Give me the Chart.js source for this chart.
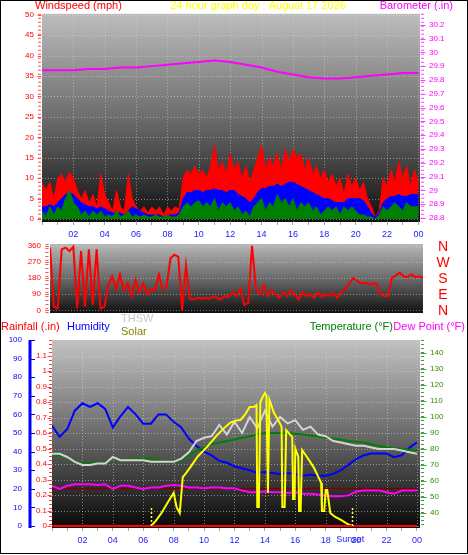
<!DOCTYPE html>
<html><head><meta charset="utf-8">
<script src="https://cdn.jsdelivr.net/npm/chart.js@4.4.1/dist/chart.umd.min.js"></script>
<style>
html,body{margin:0;padding:0;background:#fff;}
#wrap{position:relative;width:468px;height:555px;overflow:hidden;background:#fff;}
canvas{position:absolute;left:0;}
#frame{position:absolute;left:0;top:0;width:466px;height:552px;border:1px solid #000;pointer-events:none;}
</style></head><body>
<div id="wrap">
<canvas id="c1" width="468" height="245" style="top:0px"></canvas>
<canvas id="c2" width="468" height="105" style="top:225px"></canvas>
<canvas id="c3" width="468" height="255" style="top:300px"></canvas>
<div id="frame"></div>
</div>
<script>
// ---------- DATA ----------
const hourTicks = [0,1,2,3,4,5,6,7,8,9,10,11,12,13,14,15,16,17,18,19,20,21,22,23,24];
const gridHours = [2,4,6,8,10,12,14,16,18,20,22,24];

// wind (mph), 15-minute samples from 00:00 to 24:00
const windGust = [9,7,9,5, 10,11,9,11.5, 10,7,5,7, 4,6,3,11, 6,4,2,7, 3,2,11,5, 3,2,3,1.5, 3,2,3,1,
  3,2,3,2.5, 10,12,11,13, 11,12,10,13, 18,12,14,11, 16,12,14,10, 13,9,12,15, 18,12,15,13,
  16,12,17,14, 17,15,16,12, 15,11,13,10, 12,9,11,8, 10,6,11,8, 10,7,9,5, 3,0.5,2,10,
  8,12,9,14, 10,13,8,12, 9];
const windAvg = [3,3,3.5,3, 4,5,6,6.5, 6,5,4,3.5, 3,3,2.5,3, 2.5,2,1.5,1.5, 1.5,1,2,3, 2.5,2,1.5,1, 1,1,1,0.5,
  1,1,1,1.5, 5,6.5,6.5,7, 7,6.5,7,7, 7.5,7,7,6.5, 7,7,6,5.5, 5,4,5,6.5, 7.5,7.5,8,8,
  8.5,8,8.5,9, 9,8.5,8,7.5, 7,6.5,6,5.5, 5,5,4.5,4, 4,4,5,5, 5,5,4.5,3, 1.5,0.5,1.5,4,
  5,5.5,5.5,6, 5.5,5.5,6,6, 6];
const windSpeed = [2,0.5,3,1, 3,2,5,7, 4,3,1,2, 0.5,2,1,2, 0.5,1,0.5,2, 0.5,1,2,0.5, 1,0.5,1,0.5, 0.5,1,0.5,0.5,
  1,0.5,0.5,1, 3,4,3,4, 4.5,3,4,3, 5,2,4,3, 4,2,3,1, 2,0.5,3,4, 5,2,4,3,
  6,4,5,3, 5,2,4,3, 4,2,3,1, 2,3,2,3, 1,3,2,3, 2,1,1,0.5, 0.5,0,1,3,
  2,3,4,3, 2,4,3,3, 3];
// barometer (in), hourly
const baro = [29.87,29.87,29.87,29.88,29.88,29.89,29.89,29.90,29.91,29.92,29.93,29.94,29.93,
  29.91,29.89,29.86,29.84,29.82,29.81,29.81,29.82,29.83,29.84,29.85,29.85];
const windTicks = [0,5,10,15,20,25,30,35,40,45,50];
const baroTicks = [28.8,28.9,29.0,29.1,29.2,29.3,29.4,29.5,29.6,29.7,29.8,29.9,30.0,30.1,30.2];

// wind direction (degrees), 15-minute samples
const windDir = [350,20,10,340, 350,330,355,10, 330,20,340,30, 340,10,20,140, 190,120,200,110,
  150,80,170,100, 150,90,120,110, 200,120,130,290, 310,300,0,250, 65,60,70,65, 70,65,75,70,
  60,80,75,100, 80,120,30,40, 360,120,90,140, 80,110,90,70, 100,80,110,90, 60,100,80,90,
  70,100,75,90, 85,95,70,100, 120,150,180,165, 150,155,145,150, 150,90,80,80,
  180,195,210,190, 185,200,185,190, 180];
const dirTicks = [0,90,180,270,360];
const compass = ['N','E','S','W','N'];

// bottom panel, 30-minute samples
const humidity = [54,48,52,62,66,64,66,63,53,59, 64,60,55,55,60,60,56,53,47,43,
  40,38,35,34,32,31,30,28.5,29,28.5, 28,28.5,28,27,27.5,27,27,28,30,33, 36,38,39,39,39,37,38,42,45];
const temperature = [76,76,75,72,71,71,71,72,74,73, 73,74,74,74,73,72,72,73,76,79,
  81,83,84,85,86,87,88,89,90,90, 90,90,89.5,89,88.5,88,87,86.5,86,85, 84.5,84,83,82,81,80.5,80,79.5,79];
const thsw = [77,77,75,72,70,70,71,71,75,73, 73,73,73,72,72,72,72,74,78,85,
  87,88,95,89,97,90,100,93,104,94, 100,96,98,92,94,89,88,85,84,83, 82,82,81,80,80,80,79,78,77];
const dewPoint = [57,55,57,58,58,58,57.5,58,55,57, 57,56,55,56,56,57,57.5,57,56,56,
  55.5,56,56,55.5,55.5,54,53,53,53.5,53, 53,52.5,53,52,52,51.5,51,50.5,50.5,51, 53.5,54,54,54,53,52,54,54,54];
const dewRefHours = [0,24];
const dewRef = [55.3,55.3];
const rainHours = [0,24];
const rainfall = [0,0];
const solarHours = [0,6.5,6.8,7.2,7.6,8.0,8.2,8.4,8.6,8.8,9.1,9.6,10.2,10.8,11.3,11.7,12.1,12.4,12.7,13.0,13.3,13.45,13.5,13.6,13.7,13.85,14.0,14.1,14.2,14.3,14.6,14.9,15.1,15.15,15.3,15.4,15.8,15.85,15.95,16.0,16.2,16.25,16.35,16.45,16.8,17.2,17.5,17.7,17.75,17.9,18.0,18.1,18.3,18.6,19.0,19.4,19.7,24];
const solar = [0,0,30,84,150,213,120,84,316,340,380,450,510,580,630,665,680,684,720,768,770,780,123,123,800,832,858,840,213,813,729,680,639,123,123,619,574,174,174,500,445,97,97,490,440,380,320,277,97,97,232,232,84,60,39,15,0,0];
const sunTimes = [6.5, 19.75];
const humTicks = [0,10,20,30,40,50,60,70,80,90,100];
const rainTicks = [0,0.1,0.2,0.3,0.4,0.5,0.6,0.7,0.8,0.9,1,1.1];
const tempTicks = [40,50,60,70,80,90,100,110,120,130,140];

// ---------- HELPERS ----------
const FONT = "'Liberation Sans', Arial, sans-serif";
Chart.defaults.font.family = FONT;
Chart.defaults.animation = false;
const pts = (xs, ys) => ys.map((y, i) => ({x: xs[i], y}));
const q = arr => arr.map((_, i) => i * 0.25);
const h = arr => arr.map((_, i) => i * 0.5);
const setTicks = list => s => { s.ticks = list.map(v => ({value: v})); };
const hourLabel = v => (v > 0 && v % 2 === 0) ? String(v % 24).padStart(2, '0') : '';

function deco(cfg) {
  return {
    id: 'deco',
    beforeDraw(chart) {
      const {ctx, chartArea: a} = chart;
      ctx.save();
      const g = ctx.createLinearGradient(0, a.top, 0, a.bottom);
      cfg.bg.forEach(s => g.addColorStop(s[0], s[1]));
      ctx.fillStyle = g;
      ctx.fillRect(a.left, a.top, a.right - a.left, a.bottom - a.top);
      ctx.lineWidth = 1;
      ctx.strokeStyle = cfg.grid;
      ctx.setLineDash([1, 2]);
      if (cfg.hAxis) {
        const s = chart.scales[cfg.hAxis];
        s.ticks.forEach(t => {
          const y = Math.round(s.getPixelForValue(t.value)) + 0.5;
          ctx.beginPath(); ctx.moveTo(a.left, y); ctx.lineTo(a.right, y); ctx.stroke();
        });
      }
      if (cfg.vLines) {
        const s = chart.scales.x;
        cfg.vLines.forEach(v => {
          const x = Math.round(s.getPixelForValue(v)) + 0.5;
          if (x > a.right) return;
          ctx.beginPath(); ctx.moveTo(x, a.top); ctx.lineTo(x, a.bottom); ctx.stroke();
        });
      }
      ctx.restore();
    },
    afterDraw(chart) {
      const {ctx, chartArea: a} = chart;
      ctx.save();
      (cfg.borders || []).forEach(b => {
        const x = b.side === 'left' ? a.left - b.off : a.right + b.off;
        ctx.strokeStyle = b.color; ctx.lineWidth = b.width; ctx.setLineDash(b.dash);
        ctx.beginPath(); ctx.moveTo(x, a.top); ctx.lineTo(x, a.bottom); ctx.stroke();
        if (b.major) {
          const s = chart.scales[b.axis];
          ctx.setLineDash([]); ctx.lineWidth = 1;
          s.ticks.forEach(t => {
            const y = Math.round(s.getPixelForValue(t.value)) + 0.5;
            ctx.beginPath(); ctx.moveTo(x + b.major[0], y); ctx.lineTo(x + b.major[1], y); ctx.stroke();
          });
        }
      });
      (cfg.texts || []).forEach(t => {
        ctx.font = t.font; ctx.fillStyle = t.color; ctx.textAlign = t.align; ctx.textBaseline = 'middle';
        ctx.fillText(t.text, t.x, t.y);
      });
      if (cfg.after) cfg.after(chart, ctx);
      ctx.restore();
    }
  };
}

const baseOpts = {
  responsive: false, animation: false,
  plugins: {legend: {display: false}, tooltip: {enabled: false}},
  elements: {point: {radius: 0}, line: {tension: 0}}
};
const xAxis = (max, height) => ({
  type: 'linear', min: 0, max: max,
  afterBuildTicks: setTicks(hourTicks),
  afterFit: s => { s.height = height; },
  grid: {drawOnChartArea: false, drawTicks: true, tickLength: 3, color: '#a8a8a8', tickColor: '#a8a8a8'},
  border: {display: false},
  ticks: {autoSkip: false, maxRotation: 0, color: '#1a1aff', font: {size: 9}, padding: 4, callback: hourLabel}
});
const yAxis = (pos, min, max, list, width, color, pad, size, fmt, weight) => ({
  position: pos, min: min, max: max, weight: weight || 0,
  afterBuildTicks: setTicks(list),
  afterFit: s => { s.width = width; },
  grid: {display: true, drawOnChartArea: false, drawTicks: false, tickLength: 0, color: 'rgba(0,0,0,0)'},
  border: {display: false},
  ticks: {color: color, font: {size: size}, padding: pad, autoSkip: false, callback: fmt || (v => String(v))}
});

// ---------- TOP: wind + barometer ----------
new Chart(document.getElementById('c1'), {
  type: 'line',
  data: {datasets: [
    {label: 'Barometer', data: pts(hourTicks, baro), borderColor: '#ff00ff', borderWidth: 2, fill: false, yAxisID: 'baro', order: 0},
    {label: 'Wind Speed', data: pts(q(windSpeed), windSpeed), borderColor: '#008000', backgroundColor: '#008000', borderWidth: 1, fill: 'origin', yAxisID: 'wind', order: 1},
    {label: 'Wind Avg', data: pts(q(windAvg), windAvg), borderColor: '#0000ff', backgroundColor: '#0000ff', borderWidth: 1, fill: 'origin', yAxisID: 'wind', order: 2},
    {label: 'Wind Gust', data: pts(q(windGust), windGust), borderColor: '#ff0000', backgroundColor: '#ff0000', borderWidth: 1, fill: 'origin', yAxisID: 'wind', order: 3}
  ]},
  options: Object.assign({}, baseOpts, {
    layout: {padding: {top: 11, left: 0, right: 0, bottom: 0}},
    scales: {
      x: xAxis(24.1, 23),
      wind: yAxis('left', -0.72, 50.24, windTicks, 42, '#ff0000', 8, 8),
      baro: yAxis('right', 28.771, 30.279, baroTicks, 48, '#ff00ff', 9, 8, v => String(parseFloat(v.toFixed(1))))
    }
  }),
  plugins: [deco({
    bg: [[0, '#bdbdbd'], [0.5, '#6c6c6c'], [1, '#0e0e0e']],
    grid: 'rgba(215,215,215,0.55)', hAxis: 'wind', vLines: gridHours,
    borders: [
      {side: 'left', off: 2.5, color: '#ff5050', width: 3, dash: [1, 3], axis: 'wind', major: [-2, 2]},
      {side: 'right', off: 2.5, color: '#ff40ff', width: 3, dash: [1, 3], axis: 'baro', major: [-2, 3]}
    ],
    texts: [
      {text: 'Windspeed (mph)', x: 35, y: 6, align: 'left', color: '#ff0000', font: '11px ' + FONT},
      {text: '24 hour graph day : August 17 2026', x: 258, y: 6, align: 'center', color: '#ffff00', font: '11px ' + FONT},
      {text: 'Barometer (.in)', x: 453, y: 6, align: 'right', color: '#ff00ff', font: '11px ' + FONT}
    ]
  })]
});

// ---------- MIDDLE: wind direction ----------
new Chart(document.getElementById('c2'), {
  type: 'line',
  data: {datasets: [
    {label: 'Wind Direction', data: pts(q(windDir), windDir), borderColor: '#ff0000', borderWidth: 2, fill: false, yAxisID: 'dir'}
  ]},
  options: Object.assign({}, baseOpts, {
    layout: {padding: {top: 19, left: 0, right: 45, bottom: 17}},
    scales: {
      x: {type: 'linear', min: 0, max: 24, display: false},
      dir: yAxis('left', -15, 370, dirTicks, 50, '#ff0000', 9, 8)
    }
  }),
  plugins: [deco({
    bg: [[0, '#b8b8b8'], [0.5, '#6a6a6a'], [1, '#101010']],
    grid: 'rgba(215,215,215,0.5)', hAxis: 'dir',
    borders: [
      {side: 'left', off: 3, color: '#ff5050', width: 3, dash: [1, 3], axis: 'dir', major: [-2, 2]}
    ],
    after: (chart, ctx) => {
      const s = chart.scales.dir;
      ctx.font = '14px ' + FONT; ctx.fillStyle = '#ff0000'; ctx.textAlign = 'center'; ctx.textBaseline = 'middle';
      dirTicks.forEach((v, i) => ctx.fillText(compass[i], 443, s.getPixelForValue(v) + 1));
    }
  })]
});

// ---------- BOTTOM: rain, humidity, temps, solar ----------
new Chart(document.getElementById('c3'), {
  type: 'line',
  data: {datasets: [
    {label: 'Rainfall', data: pts(rainHours, rainfall), borderColor: '#ff0000', borderWidth: 2, fill: false, yAxisID: 'rain', order: 0},
    {label: 'Solar', data: pts(solarHours, solar), borderColor: '#ffff00', borderWidth: 2, fill: false, yAxisID: 'solar', order: 1},
    {label: 'THSW', data: pts(h(thsw), thsw), borderColor: '#d4d4d4', borderWidth: 2, fill: false, yAxisID: 'temp', order: 2},
    {label: 'Temperature', data: pts(h(temperature), temperature), borderColor: '#008000', borderWidth: 2, fill: false, yAxisID: 'temp', order: 3},
    {label: 'Humidity', data: pts(h(humidity), humidity), borderColor: '#0000ff', borderWidth: 2, fill: false, yAxisID: 'hum', order: 4},
    {label: 'Dew Point', data: pts(h(dewPoint), dewPoint), borderColor: '#ff00ff', borderWidth: 2, fill: false, yAxisID: 'temp', order: 5},
    {label: 'Dew ref', data: pts(dewRefHours, dewRef), borderColor: '#7a0000', borderWidth: 1.5, fill: false, yAxisID: 'temp', order: 6}
  ]},
  options: Object.assign({}, baseOpts, {
    layout: {padding: {top: 40, left: 0, right: 0, bottom: 0}},
    scales: {
      x: xAxis(24.2, 27),
      hum: yAxis('left', -1.075, 100, humTicks, 30, '#0000ff', 8, 8, null, 2),
      rain: yAxis('left', -0.0129, 1.2, rainTicks, 22, '#ff0000', 5, 8, v => String(parseFloat(v.toFixed(1))), 1),
      temp: yAxis('right', 30.625, 148.125, tempTicks, 48, '#3c8a00', 10, 8),
      solar: {display: false, min: -12.9, max: 1200}
    }
  }),
  plugins: [deco({
    bg: [[0, '#c2c2c2'], [0.5, '#6a6a6a'], [1, '#080808']],
    grid: 'rgba(215,215,215,0.55)', hAxis: 'rain', vLines: gridHours,
    borders: [
      {side: 'left', off: 22, color: '#0000ff', width: 3, dash: [], axis: 'hum', major: [0, 5]},
      {side: 'left', off: 1.5, color: '#ff4040', width: 3, dash: [1, 3], axis: 'rain', major: [-3, 1]},
      {side: 'right', off: 2.5, color: '#40a040', width: 3, dash: [1, 3], axis: 'temp', major: [-2, 4]}
    ],
    texts: [
      {text: 'THSW', x: 121, y: 19, align: 'left', color: '#c8c8c8', font: '11px ' + FONT},
      {text: 'Rainfall (.in)', x: 1, y: 27, align: 'left', color: '#ff0000', font: '11px ' + FONT},
      {text: 'Humidity', x: 67, y: 27, align: 'left', color: '#0000ff', font: '11px ' + FONT},
      {text: 'Solar', x: 121, y: 32, align: 'left', color: '#808000', font: '11px ' + FONT},
      {text: 'Temperature (°F)', x: 393, y: 27, align: 'right', color: '#008000', font: '11px ' + FONT},
      {text: 'Dew Point (°F)', x: 465, y: 27, align: 'right', color: '#ff00ff', font: '11px ' + FONT}
    ],
    after: (chart, ctx) => {
      const s = chart.scales.x, a = chart.chartArea;
      ctx.strokeStyle = '#ffff40'; ctx.lineWidth = 1.5; ctx.setLineDash([2, 2]);
      sunTimes.forEach(t => {
        const x = Math.round(s.getPixelForValue(t)) + 0.5;
        ctx.beginPath(); ctx.moveTo(x, a.bottom - 20); ctx.lineTo(x, a.bottom); ctx.stroke();
      });
      ctx.setLineDash([]);
      ctx.font = '9px ' + FONT; ctx.fillStyle = '#1a1aff'; ctx.textAlign = 'center'; ctx.textBaseline = 'middle';
      ctx.fillText('Sunset', s.getPixelForValue(sunTimes[1]) - 2, a.bottom + 12);
    }
  })]
});
</script>
</body></html>
